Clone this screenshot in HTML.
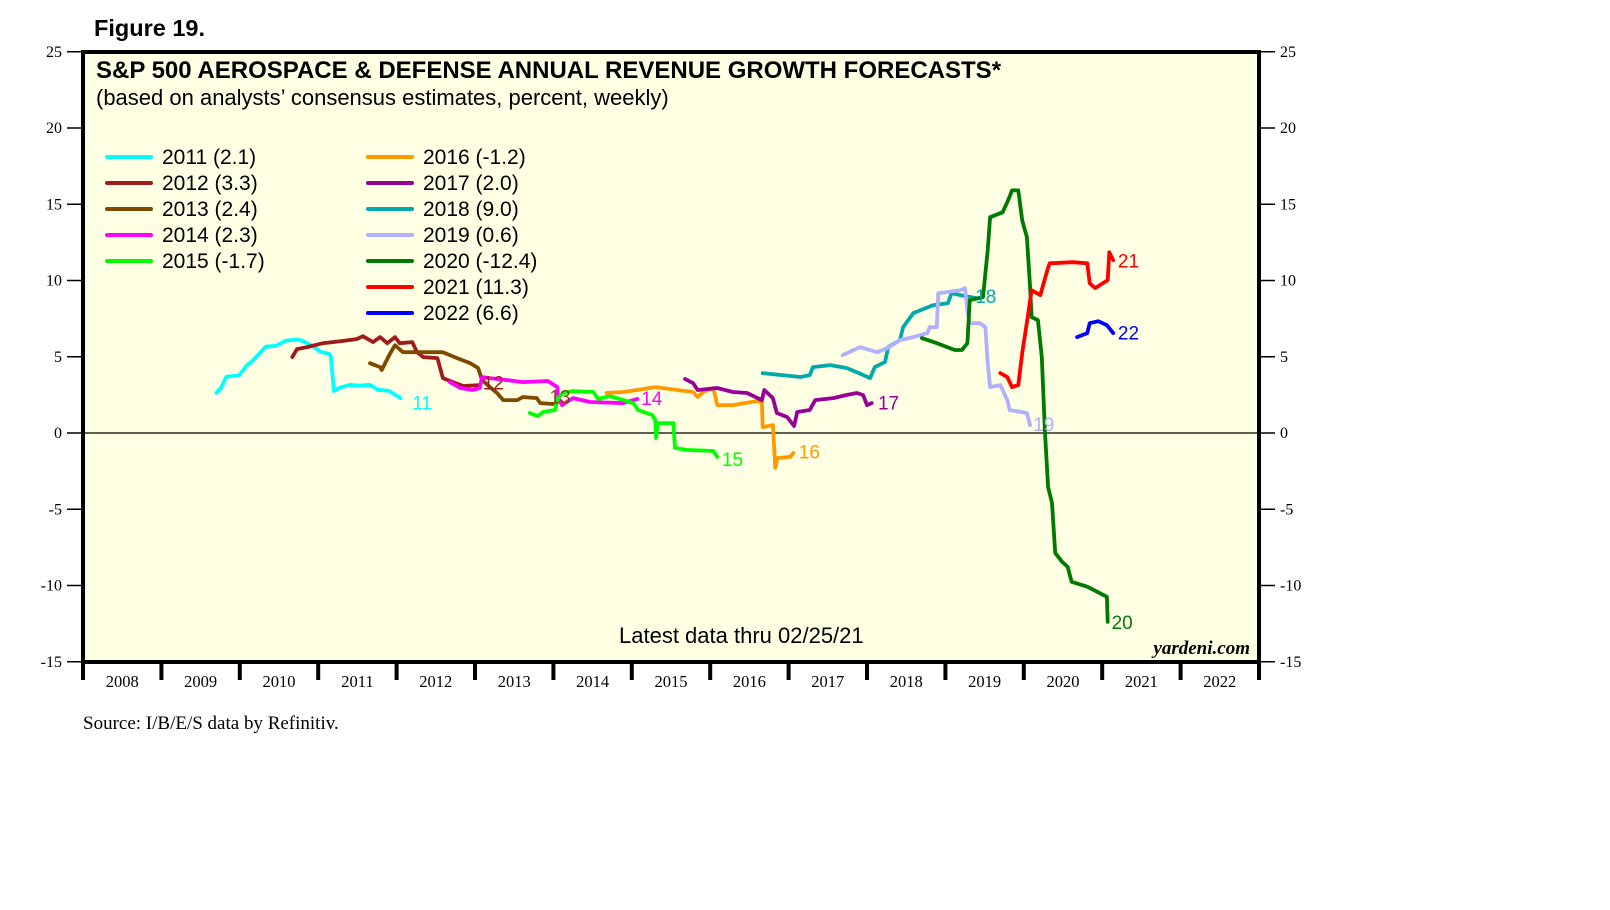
<!DOCTYPE html>
<html><head><meta charset="utf-8"><style>
html,body{margin:0;padding:0;background:#fff;width:1610px;height:910px;overflow:hidden}
svg{display:block}
.sans{font-family:"Liberation Sans",Arial,sans-serif}
.serif{font-family:"Liberation Serif","Times New Roman",serif}
</style></head><body>
<svg id="chart" width="1610" height="910" viewBox="0 0 1610 910" xmlns="http://www.w3.org/2000/svg">
<rect x="83" y="52" width="1176" height="610" fill="#ffffe4"/>
<g id="grid"></g>
<g id="series"></g>
<g id="labels"></g>
<rect x="83" y="52" width="1176" height="610" fill="none" stroke="#000" stroke-width="4"/>
<g id="axes"></g>
<text x="94" y="36" class="sans" font-size="23.5" font-weight="bold">Figure 19.</text>
<text x="96" y="78" class="sans" font-size="24" font-weight="bold">S&amp;P 500 AEROSPACE &amp; DEFENSE ANNUAL REVENUE GROWTH FORECASTS*</text>
<text x="96" y="105" class="sans" font-size="22">(based on analysts’ consensus estimates, percent, weekly)</text>
<g id="legend"></g>
<text x="619" y="643" class="sans" font-size="22">Latest data thru 02/25/21</text>
<text x="1250" y="654" text-anchor="end" class="serif" font-size="19" font-style="italic" font-weight="bold">yardeni.com</text>
<text x="83" y="729" class="serif" font-size="19">Source: I/B/E/S data by Refinitiv.</text>
</svg>
<script>
const yTicks = [25, 20, 15, 10, 5, 0, -5, -10, -15];
const yearLabels = ["2008","2009","2010","2011","2012","2013","2014","2015","2016","2017","2018","2019","2020","2021","2022"];
const seriesNames = ["2011","2012","2013","2014","2015","2016","2017","2018","2019","2020","2021","2022"];
const seriesFinal = ["2.1","3.3","2.4","2.3","-1.7","-1.2","2.0","9.0","0.6","-12.4","11.3","6.6"];
const seriesColors = ["#00ffff","#a01c1c","#7f4a00","#ff00ff","#00ff00","#ff9900","#990099","#00aaaa","#b0b0ff","#007a00","#ff0000","#0000ff"];
const endLabels = ["11","12","13","14","15","16","17","18","19","20","21","22"];
const s2011 = [[2009.70,2.63],[2009.76,2.96],[2009.83,3.7],[2009.99,3.77],[2010.09,4.44],[2010.16,4.71],[2010.33,5.66],[2010.46,5.72],[2010.59,6.06],[2010.75,6.13],[2010.82,5.99],[2010.94,5.66],[2011.03,5.32],[2011.14,5.19],[2011.16,5.05],[2011.20,2.76],[2011.27,2.96],[2011.40,3.16],[2011.53,3.1],[2011.66,3.16],[2011.76,2.83],[2011.90,2.76],[2012.05,2.29]];
const s2012 = [[2010.67,4.98],[2010.73,5.5],[2010.86,5.63],[2011.06,5.89],[2011.28,6.02],[2011.49,6.16],[2011.57,6.35],[2011.70,5.96],[2011.79,6.29],[2011.88,5.89],[2011.98,6.29],[2012.04,5.89],[2012.20,5.96],[2012.26,5.3],[2012.34,4.98],[2012.52,4.91],[2012.59,3.6],[2012.72,3.34],[2012.85,3.08],[2013.06,3.14]];
const s2013 = [[2011.66,4.58],[2011.79,4.32],[2011.81,4.13],[2011.92,5.24],[2011.98,5.76],[2012.08,5.3],[2012.59,5.3],[2012.77,4.91],[2012.94,4.58],[2013.04,4.26],[2013.09,3.47],[2013.19,3.01],[2013.28,2.62],[2013.36,2.16],[2013.54,2.16],[2013.61,2.36],[2013.79,2.29],[2013.83,1.96],[2013.99,1.9]];
const s2014 = [[2012.68,3.34],[2012.81,2.95],[2012.97,2.82],[2013.06,2.95],[2013.09,3.67],[2013.19,3.6],[2013.41,3.47],[2013.61,3.34],[2013.93,3.41],[2014.05,3.01],[2014.06,2.36],[2014.11,1.83],[2014.17,2.03],[2014.25,2.29],[2014.47,2.03],[2014.89,1.96],[2015.02,2.16],[2015.07,2.23]];
const s2015 = [[2013.70,1.31],[2013.80,1.11],[2013.87,1.38],[2014.02,1.51],[2014.06,2.29],[2014.12,2.62],[2014.25,2.75],[2014.51,2.69],[2014.57,2.23],[2014.72,2.42],[2014.89,2.16],[2015.02,1.96],[2015.08,1.51],[2015.26,1.18],[2015.30,0.85],[2015.31,-0.33],[2015.33,0.65],[2015.53,0.65],[2015.55,-0.98],[2015.70,-1.11],[2016.04,-1.18],[2016.09,-1.57]];
const s2016 = [[2014.68,2.62],[2014.89,2.69],[2015.07,2.82],[2015.30,3.01],[2015.58,2.82],[2015.78,2.69],[2015.84,2.36],[2015.91,2.69],[2016.04,2.95],[2016.09,1.83],[2016.29,1.83],[2016.60,2.1],[2016.66,2.03],[2016.67,0.39],[2016.80,0.52],[2016.83,-2.29],[2016.86,-1.64],[2017.02,-1.57],[2017.06,-1.31]];
const s2017 = [[2015.68,3.54],[2015.78,3.27],[2015.84,2.82],[2016.09,2.95],[2016.29,2.69],[2016.47,2.62],[2016.66,2.16],[2016.69,2.82],[2016.80,2.29],[2016.85,1.31],[2016.98,1.05],[2017.07,0.46],[2017.11,1.38],[2017.27,1.51],[2017.34,2.16],[2017.57,2.29],[2017.74,2.49],[2017.87,2.62],[2017.95,2.49],[2018.00,1.83],[2018.06,1.96]];
const s2018 = [[2016.67,3.93],[2017.15,3.67],[2017.27,3.8],[2017.31,4.32],[2017.53,4.45],[2017.74,4.26],[2017.87,3.99],[2018.04,3.6],[2018.10,4.32],[2018.23,4.65],[2018.27,5.63],[2018.42,6.09],[2018.46,6.94],[2018.59,7.86],[2018.84,8.38],[2019.03,8.51],[2019.08,9.17],[2019.19,9.04],[2019.40,8.84]];
const s2019 = [[2017.69,5.11],[2017.91,5.63],[2018.13,5.3],[2018.26,5.57],[2018.42,6.09],[2018.59,6.29],[2018.77,6.55],[2018.80,6.94],[2018.89,6.94],[2018.91,9.17],[2019.19,9.36],[2019.25,9.5],[2019.28,8.06],[2019.31,7.2],[2019.44,7.2],[2019.51,6.94],[2019.54,4.58],[2019.57,3.01],[2019.70,3.14],[2019.79,2.16],[2019.82,1.51],[2020.04,1.31],[2020.08,0.52]];
const s2020 = [[2018.70,6.22],[2018.89,5.89],[2019.12,5.44],[2019.21,5.44],[2019.28,5.89],[2019.31,8.71],[2019.48,8.91],[2019.54,11.98],[2019.57,14.15],[2019.73,14.47],[2019.80,15.26],[2019.85,15.91],[2019.93,15.91],[2019.98,13.95],[2020.04,12.84],[2020.08,9.56],[2020.10,7.6],[2020.18,7.4],[2020.23,4.98],[2020.27,0],[2020.31,-3.54],[2020.36,-4.58],[2020.40,-7.86],[2020.49,-8.45],[2020.56,-8.78],[2020.61,-9.76],[2020.81,-10.08],[2021.06,-10.74],[2021.07,-12.38]];
const s2021 = [[2019.70,3.93],[2019.79,3.67],[2019.85,3.01],[2019.93,3.14],[2019.98,5.24],[2020.05,7.6],[2020.10,9.36],[2020.21,9.04],[2020.30,10.67],[2020.33,11.13],[2020.63,11.2],[2020.81,11.13],[2020.84,9.82],[2020.91,9.5],[2021.07,10.02],[2021.09,11.85],[2021.14,11.33]];
const s2022 = [[2020.68,6.29],[2020.81,6.55],[2020.84,7.2],[2020.95,7.33],[2021.06,7.07],[2021.14,6.55]];
const allSeries = [s2011,s2012,s2013,s2014,s2015,s2016,s2017,s2018,s2019,s2020,s2021,s2022];
const labelPos = [[2012.2,2.0],[2013.1,3.3],[2013.95,2.4],[2015.12,2.3],[2016.15,-1.7],[2017.13,-1.2],[2018.14,2.0],[2019.38,9.0],[2020.12,0.6],[2021.12,-12.4],[2021.2,11.3],[2021.2,6.6]];

const NS = "http://www.w3.org/2000/svg";
const X0 = 83, YW = 78.4, YEAR0 = 2008;
const xScale = yr => X0 + (yr - YEAR0) * YW;
const yScale = v => 433 - v * 15.25;
function mk(tag, attrs, parent){const e=document.createElementNS(NS,tag);for(const k in attrs)e.setAttribute(k,attrs[k]);parent.appendChild(e);return e;}
const grid=document.getElementById('grid'), axes=document.getElementById('axes'), ser=document.getElementById('series'), lab=document.getElementById('labels'), leg=document.getElementById('legend');

const zl = mk('line',{x1:83,x2:1259,y1:yScale(0),y2:yScale(0),stroke:'#000','stroke-width':1.2},grid);



yTicks.forEach(v=>{
  const y=yScale(v);
  const tl=mk('line',{x1:67,x2:83,y1:y,y2:y,stroke:'#000','stroke-width':1.5},axes);
  
  
  const tr=mk('line',{x1:1259,x2:1275,y1:y,y2:y,stroke:'#000','stroke-width':1.5},axes);
  
  
  const a=mk('text',{x:62,y:y+5,'text-anchor':'end','font-size':16,'class':'serif'},axes);
  a.textContent=v;
  
  
  const b=mk('text',{x:1280,y:y+5,'font-size':16,'class':'serif'},axes);
  b.textContent=v;
  
  
});

yearLabels.forEach((lbl,i)=>{
  const yr=YEAR0+i;
  const t=mk('line',{x1:xScale(yr),x2:xScale(yr),y1:662,y2:680,stroke:'#000','stroke-width':4},axes);
  
  
  const tx=mk('text',{x:xScale(yr+0.5),y:687,'text-anchor':'middle','font-size':16.5,'class':'serif'},axes);
  tx.textContent=lbl;
  
  
});
const te=mk('line',{x1:xScale(YEAR0+15),x2:xScale(YEAR0+15),y1:662,y2:680,stroke:'#000','stroke-width':4},axes);



allSeries.forEach((s,i)=>{
  const d=s.map((p,j)=>(j?'L':'M')+xScale(p[0]).toFixed(1)+','+yScale(p[1]).toFixed(1)).join('');
  const p=mk('path',{d:d,fill:'none',stroke:seriesColors[i],'stroke-width':3.8,'stroke-linejoin':'round','stroke-linecap':'round'},ser);
  
  
  const t=mk('text',{x:xScale(labelPos[i][0]),y:yScale(labelPos[i][1])+7,'font-size':19,fill:seriesColors[i],'class':'sans'},lab);
  t.textContent=endLabels[i];
  
  
});

seriesNames.forEach((n,i)=>{
  const col=i<5?0:1, row=i<5?i:i-5;
  const lx=col?368:107, y=157+row*26;
  const l=mk('line',{x1:lx,x2:lx+44,y1:y,y2:y,stroke:seriesColors[i],'stroke-width':4,'stroke-linecap':'round'},leg);
  
  
  const t=mk('text',{x:lx+55,y:y+7,'font-size':21,'class':'sans'},leg);
  t.textContent=n+' ('+seriesFinal[i]+')';
  
  
});
</script>
</body></html>
